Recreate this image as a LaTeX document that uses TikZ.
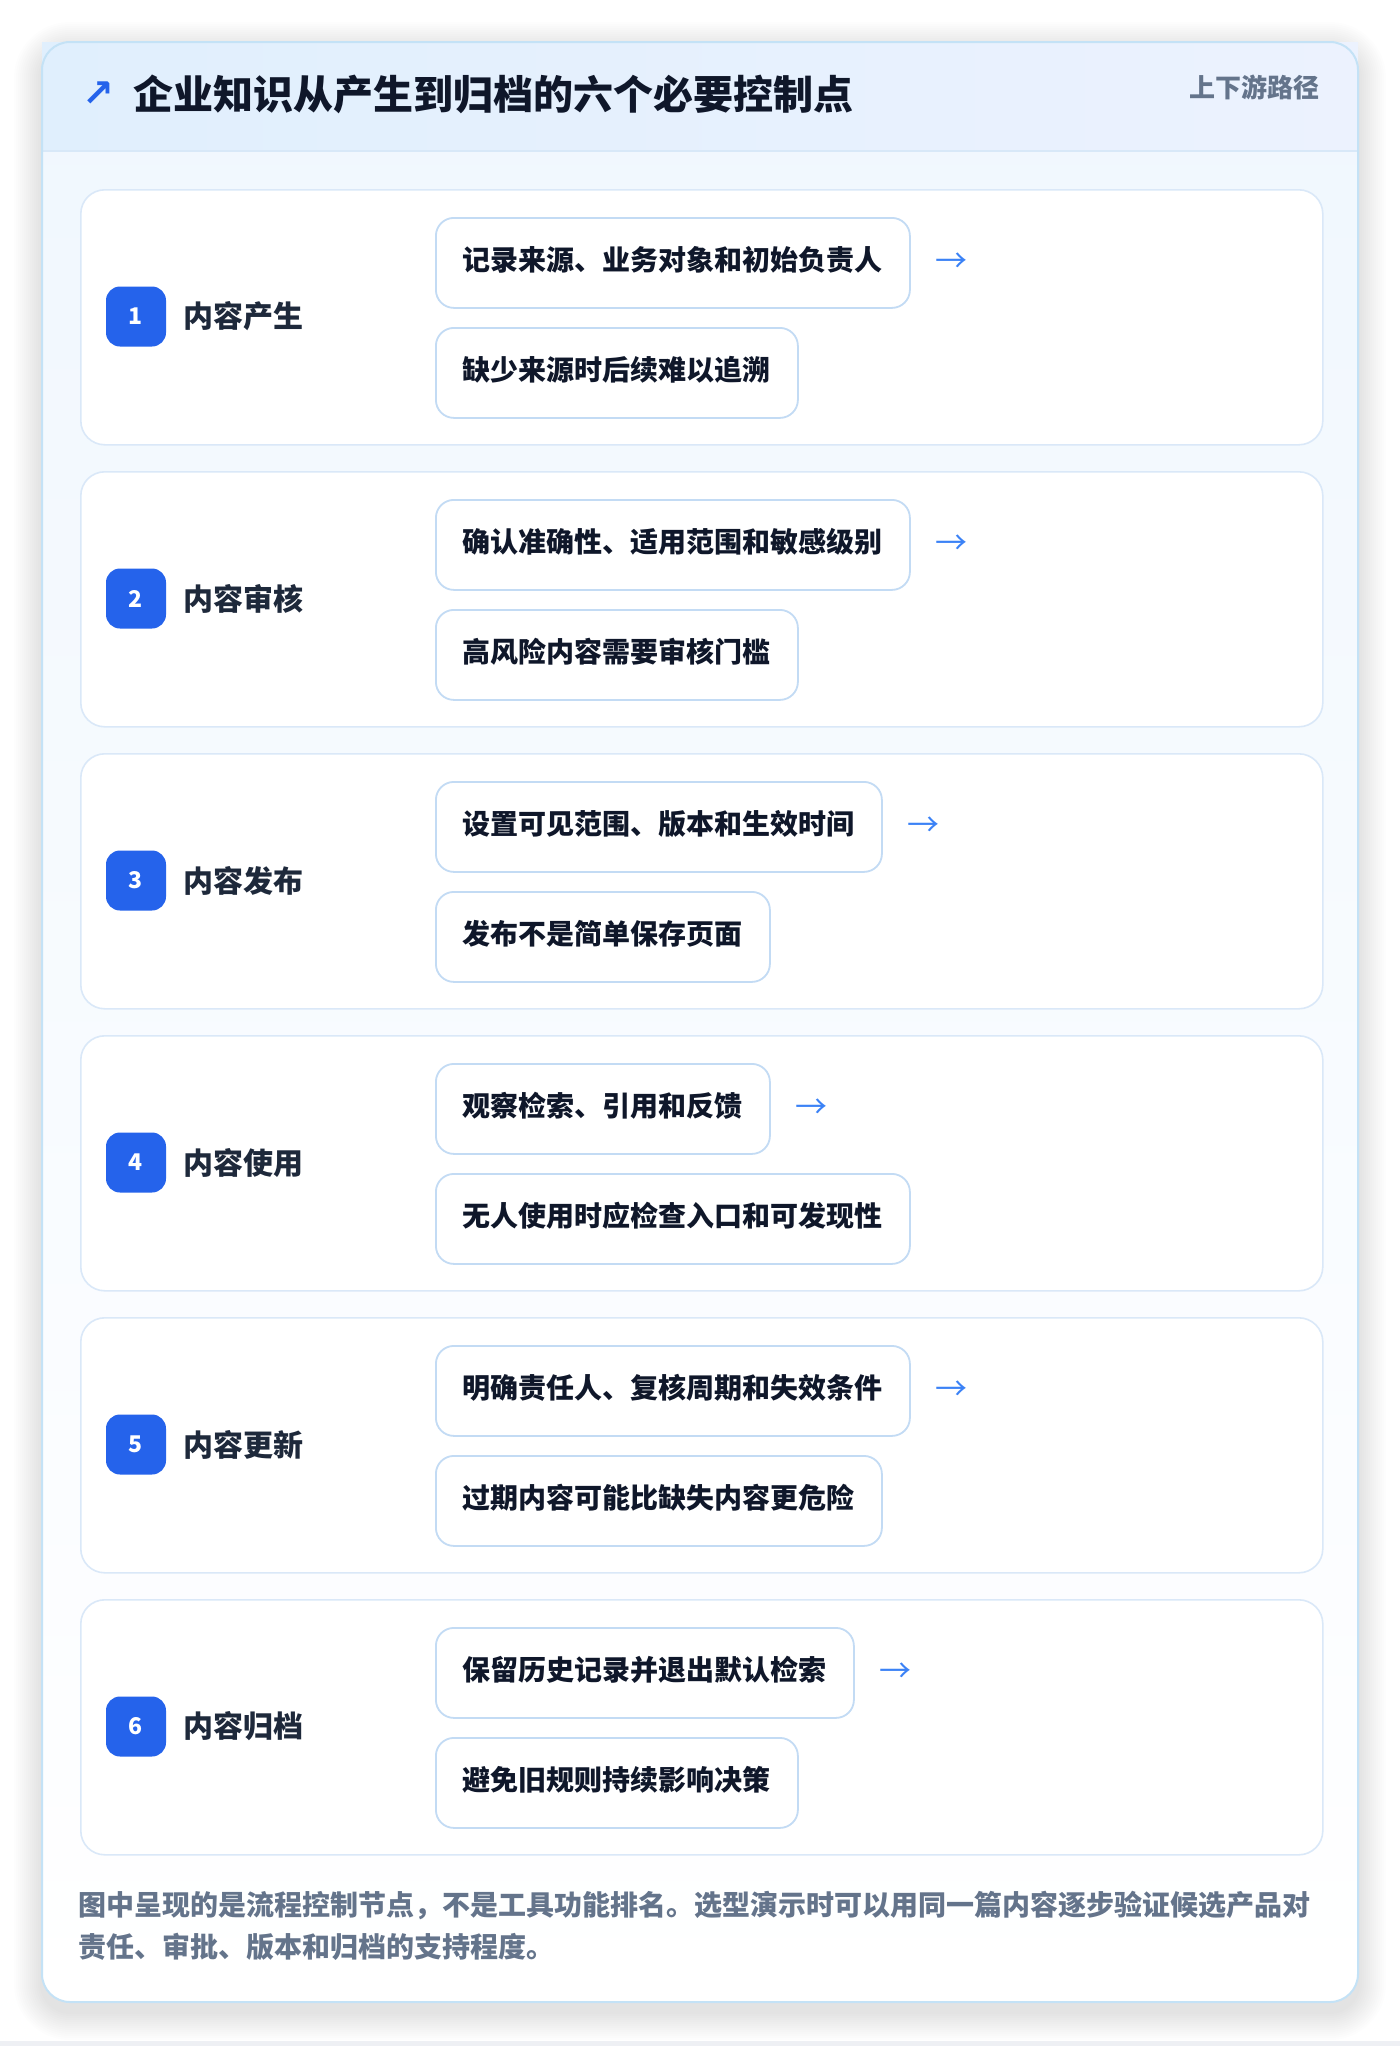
\documentclass[tikz,border=0pt]{standalone}
\usepackage{fontspec}
\setmainfont{Noto Sans CJK SC}
\newfontfamily\symfont{DejaVu Sans}
\definecolor{pagegray}{HTML}{EEF0F4}
\definecolor{bodytop}{HTML}{F0F7FE}
\definecolor{hdrL}{HTML}{E0EFFD}
\definecolor{hdrR}{HTML}{ECF2FE}
\definecolor{hdrline}{HTML}{D8E8F8}
\definecolor{outerline}{HTML}{C4E2F6}
\definecolor{cardline}{HTML}{DAE8F8}
\definecolor{boxline}{HTML}{C3DBF4}
\definecolor{badgeblue}{HTML}{2563EB}
\definecolor{arrowblue}{HTML}{3B82F6}
\definecolor{ink}{HTML}{0F172A}
\definecolor{labelink}{HTML}{1E293B}
\definecolor{muted}{HTML}{64748B}
\pgfdeclarelayer{shadow}
\pgfsetlayers{shadow,main}
\begin{document}
\begin{tikzpicture}[x=0.5pt,y=-0.5pt,
  stepcard/.style={draw=cardline, line width=0.8pt, fill=white, rounded corners=12pt,
    minimum width=621pt, minimum height=127.5pt, inner sep=0pt, anchor=north west},
  notebox/.style={draw=boxline, line width=0.9pt, fill=white, rounded corners=9pt,
    minimum height=45pt, inner xsep=13.5pt, inner ysep=0pt, anchor=north west,
    font=\fontsize{14pt}{16pt}\selectfont\bfseries, text=ink,
    text height=0.88em, text depth=0.12em},
  badge/.style={fill=badgeblue, rounded corners=7pt, minimum size=30pt, inner sep=0pt,
    text=white, font=\fontsize{11.5pt}{13pt}\selectfont\bfseries},
  steplabel/.style={anchor=west, inner sep=0pt, text=labelink,
    font=\fontsize{15pt}{17pt}\selectfont\bfseries},
  arrowtxt/.style={anchor=west, inner sep=0pt, text=arrowblue,
    font=\fontsize{16pt}{18pt}\selectfont},
  foottxt/.style={anchor=base west, inner sep=0pt, text=muted,
    font=\fontsize{14pt}{17pt}\selectfont\bfseries},
  softshade/.style={fill=black, opacity=0.016}
]
\useasboundingbox (0,0) rectangle (1400,2046);
\fill[white] (0,0) rectangle (1400,2046);
\fill[pagegray] (0,2041) rectangle (1400,2046);
% outer card soft shadow
\foreach \k in {1,...,14}{
  \fill[black, opacity=0.006, rounded corners=14pt+\k pt]
    (42-2*\k,42-2*\k+8) rectangle (1358+2*\k,2002+2*\k+10);
}
\path[rounded corners=14pt, top color=bodytop, bottom color=white] (42,42) rectangle (1358,2002);
% header
\path[left color=hdrL, right color=hdrR] (42,42) rectangle (1358,151);
\draw[hdrline, line width=1pt] (42,151) -- (1358,151);
\draw[outerline, line width=1pt, rounded corners=14pt] (42,42) rectangle (1358,2002);
\node[anchor=west, inner sep=0pt, text=badgeblue, font=\fontsize{19pt}{21pt}\selectfont\symfont\bfseries] (ticon) at (82,94) {↗};
\node[anchor=west, inner sep=0pt, text=ink, font=\fontsize{20pt}{24pt}\selectfont\bfseries] (title) at (133,94) {企业知识从产生到归档的六个必要控制点};
\node[anchor=east, inner sep=0pt, text=muted, font=\fontsize{13pt}{15pt}\selectfont\bfseries] (sub) at (1320,87) {上下游路径};
% steps
\foreach \i/\lab/\ta/\tb in {
  1/内容产生/记录来源、业务对象和初始负责人/缺少来源时后续难以追溯,
  2/内容审核/确认准确性、适用范围和敏感级别/高风险内容需要审核门槛,
  3/内容发布/设置可见范围、版本和生效时间/发布不是简单保存页面,
  4/内容使用/观察检索、引用和反馈/无人使用时应检查入口和可发现性,
  5/内容更新/明确责任人、复核周期和失效条件/过期内容可能比缺失内容更危险,
  6/内容归档/保留历史记录并退出默认检索/避免旧规则持续影响决策}{
  \pgfmathsetmacro\ct{189+282*(\i-1)}
  \node[stepcard] (card\i) at (80,\ct) {};
  \node[badge] (badge\i) at (136,\ct+127.5) {\i};
  \node[steplabel] (label\i) at (183,\ct+127.5) {\lab};
  \node[notebox] (boxa\i) at (435,\ct+28) {\ta};
  \node[notebox] (boxb\i) at (435,\ct+138) {\tb};
  \node[arrowtxt] (arr\i) at ([xshift=12pt]boxa\i.east) {→};
  \begin{pgfonlayer}{shadow}
    \foreach \b in {boxa\i,boxb\i}{
      \foreach \k in {1,...,8}{
        \fill[softshade, rounded corners=9pt+0.8*\k pt]
          ([xshift=-0.8*\k pt, yshift=-5pt-0.8*\k pt]\b.south west) rectangle
          ([xshift=0.8*\k pt, yshift=-2pt+0.8*\k pt]\b.north east);
      }
    }
  \end{pgfonlayer}
}
% footer
\node[foottxt] (foot1) at (78,1915) {图中呈现的是流程控制节点，不是工具功能排名。选型演示时可以用同一篇内容逐步验证候选产品对};
\node[foottxt] (foot2) at (78,1957) {责任、审批、版本和归档的支持程度。};
\end{tikzpicture}
\end{document}
